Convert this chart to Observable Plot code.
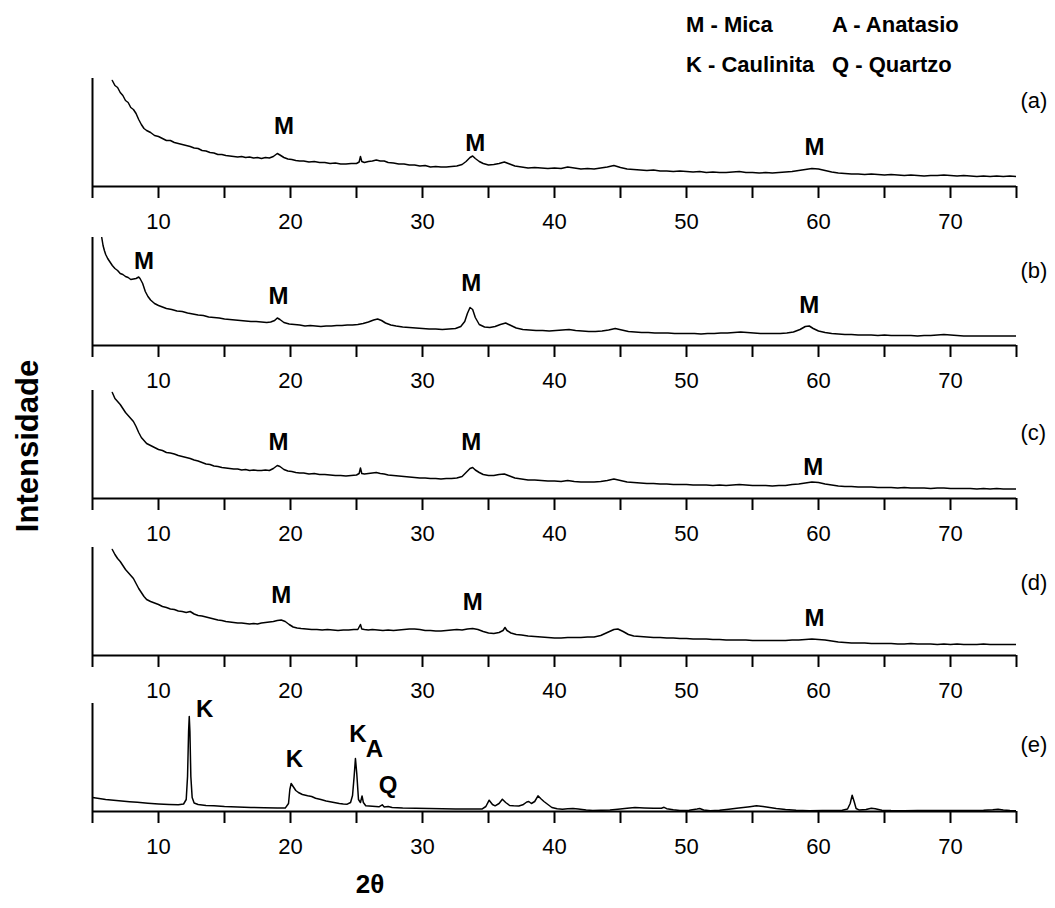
<!DOCTYPE html>
<html>
<head>
<meta charset="utf-8">
<script src="https://cdn.jsdelivr.net/npm/d3@7"></script>
<script src="https://cdn.jsdelivr.net/npm/@observablehq/plot@0.6"></script>
<style>
  body { margin: 0; background: #fff; }
  #wrap { position: relative; width: 1055px; height: 908px; font-family: "Liberation Sans", Arial, sans-serif; color: #000; }
  .panel { position: absolute; left: 0; }
  .legend { position: absolute; font-weight: bold; font-size: 22px; white-space: nowrap; line-height: 1; }
  .ytitle { position: absolute; font-weight: bold; font-size: 31px; white-space: nowrap; transform: translate(-50%, -50%) rotate(-90deg); line-height: 1; }
  .xtitle { position: absolute; font-weight: bold; font-size: 26px; white-space: nowrap; transform: translate(-50%, -50%); line-height: 1; }
</style>
</head>
<body>
<div id="wrap"></div>
<script>
// XRD patterns: [2θ (degrees), intensity (a.u.)]
const patternA = [[6.5,106],[6.7,101],[6.9,99],[7.1,94],[7.3,91],[7.5,86],[7.7,84],[7.9,79],[8.1,77],[8.3,73],[8.5,67],[8.7,62],[8.9,58],[9.1,56],[9.4,54],[9.7,51],[10.0,50],[10.3,48],[10.6,46],[10.9,46],[11.2,44],[11.5,43],[11.8,42],[12.1,41],[12.4,40],[12.7,38.5],[13.0,38],[13.3,36],[13.6,35.5],[13.9,34],[14.2,33.5],[14.5,32],[14.8,32],[15.1,31],[15.4,30.5],[15.7,30],[16.0,29.5],[16.3,30],[16.6,29],[16.9,29.5],[17.2,28.5],[17.5,29],[17.8,28],[18.1,29],[18.4,28.5],[18.7,30],[19.0,33],[19.2,31.5],[19.5,29],[19.8,27.5],[20.1,27],[20.4,26],[20.7,25.5],[21.0,25.5],[21.4,24.5],[21.8,25],[22.2,24],[22.6,24],[23.0,23],[23.4,23.5],[23.8,22.5],[24.2,22.5],[24.6,23],[25.0,23],[25.2,24.5],[25.3,30],[25.4,25],[25.6,24],[25.9,25],[26.2,25.5],[26.5,26.5],[26.8,25.5],[27.1,25.5],[27.4,24],[27.8,23.5],[28.2,22.5],[28.6,22.5],[29.0,21.5],[29.4,21.5],[29.8,20.5],[30.2,21],[30.6,19.5],[31.0,20],[31.4,19.5],[31.8,19.5],[32.2,20],[32.6,20.5],[33.0,22],[33.3,25],[33.6,29],[33.8,30.5],[34.0,28],[34.3,25],[34.6,23],[35.0,21.5],[35.4,22],[35.8,23],[36.2,24.5],[36.6,22.5],[37.0,20.5],[37.5,19.5],[38.0,18.5],[38.5,19],[39.0,18.5],[39.5,18],[40.0,18.5],[40.5,18],[41.0,19.5],[41.5,18.5],[42.0,17.5],[42.5,18],[43.0,17.5],[43.5,18.5],[44.0,19.5],[44.5,21],[45.0,19],[45.5,17.5],[46.0,17],[46.5,16.5],[47.0,16],[47.5,16.5],[48.0,15.5],[48.5,15.5],[49.0,15],[49.5,15.5],[50.0,15],[50.5,14.5],[51.0,15],[51.5,14],[52.0,14.5],[52.5,14],[53.0,14],[53.5,14.5],[54.0,15],[54.5,14],[55.0,14],[55.5,13.5],[56.0,14],[56.5,13.5],[57.0,14],[57.5,14.5],[58.0,15],[58.5,16],[59.0,17],[59.5,18],[60.0,17.5],[60.5,16],[61.0,14.5],[61.5,13.5],[62.0,13],[62.5,12.5],[63.0,12.5],[63.5,12],[64.0,12.5],[64.5,12],[65.0,11.5],[65.5,12],[66.0,11.5],[66.5,11],[67.0,11.5],[67.5,11],[68.0,10.5],[68.5,11],[69.0,11],[69.5,11.5],[70.0,11],[70.5,10.5],[71.0,11],[71.5,10.5],[72.0,10],[72.5,10.5],[73.0,10],[73.5,10.5],[74.0,10],[74.5,10.5],[75.0,10]];

const patternB = [[5.7,108],[5.8,100],[5.9,95],[6.0,91],[6.15,87],[6.3,84],[6.5,80],[6.7,77],[6.9,75],[7.1,72],[7.3,71],[7.5,69],[7.7,68],[7.9,66],[8.1,66.5],[8.3,67],[8.5,68.5],[8.6,67],[8.8,62],[9.0,54],[9.2,49],[9.4,45.5],[9.7,42],[10.0,40],[10.3,38.5],[10.6,37],[11.0,36],[11.4,34.5],[11.8,34],[12.2,32.5],[12.6,31.5],[13.0,30.5],[13.4,30],[13.8,28.5],[14.2,28],[14.6,27.5],[15.0,26.5],[15.4,26],[15.8,25.5],[16.2,25],[16.6,24.5],[17.0,24],[17.4,24],[17.8,23.5],[18.2,23],[18.5,23.5],[18.8,25],[19.0,27.5],[19.2,26],[19.5,23],[19.9,21.5],[20.3,21],[20.7,20.5],[21.1,19.5],[21.5,20],[21.9,19.5],[22.3,19],[22.7,19.5],[23.1,19.5],[23.5,20],[23.9,20],[24.3,20.5],[24.7,20.5],[25.1,21],[25.5,22],[25.9,23.5],[26.3,25.5],[26.6,26.5],[26.9,25],[27.2,22.5],[27.6,20.5],[28.0,19.5],[28.5,18.5],[29.0,18],[29.5,17.5],[30.0,17],[30.5,16.5],[31.0,16.5],[31.5,16],[32.0,16.5],[32.5,17],[32.9,19],[33.2,24],[33.4,32],[33.6,38],[33.8,36],[34.0,28],[34.3,21],[34.7,18.5],[35.1,18],[35.5,19],[35.9,21],[36.3,22.5],[36.7,20],[37.1,17.5],[37.6,16],[38.1,15.5],[38.6,15],[39.1,15],[39.6,14.5],[40.1,15],[40.6,15.5],[41.1,16],[41.6,15],[42.1,14.5],[42.6,14],[43.1,14],[43.6,14.5],[44.1,15.5],[44.6,17],[45.1,15.5],[45.6,14],[46.1,13.5],[46.6,13],[47.1,13],[47.6,12.5],[48.1,12.5],[48.6,12.5],[49.1,12],[49.6,12],[50.1,12],[50.6,12],[51.1,11.5],[51.6,12],[52.1,12],[52.6,12.5],[53.1,12.5],[53.6,13],[54.1,13.5],[54.6,13],[55.1,12.5],[55.6,12],[56.1,12],[56.6,12],[57.1,12],[57.6,12.5],[58.1,13.5],[58.6,16],[59.0,19],[59.3,19.5],[59.6,17],[60.0,14.5],[60.5,13],[61.0,12],[61.5,11.5],[62.0,11],[62.5,11],[63.0,10.5],[63.5,10.5],[64.0,10.5],[64.5,10],[65.0,10.5],[65.5,10],[66.0,10],[66.5,10],[67.0,10],[67.5,9.5],[68.0,10],[68.5,10],[69.0,10.5],[69.5,11],[70.0,10.5],[70.5,10],[71.0,9.5],[71.5,9.5],[72.0,9.5],[72.5,9.5],[73.0,9.5],[73.5,9.5],[74.0,9.5],[74.5,9.5],[75.0,9.5]];

const patternC = [[6.5,106],[6.7,100],[6.9,97],[7.1,94],[7.3,90],[7.5,86],[7.7,83],[7.9,80],[8.1,77],[8.3,72],[8.5,66],[8.7,61],[8.9,58],[9.1,55],[9.4,53],[9.7,51],[10.0,49],[10.3,48],[10.6,46],[10.9,45.5],[11.2,44.5],[11.5,43],[11.8,42],[12.1,41],[12.4,40],[12.7,38.5],[13.0,37.5],[13.3,36],[13.6,34.5],[13.9,34],[14.2,32.5],[14.5,32],[14.8,31],[15.1,30.5],[15.4,30],[15.7,29.5],[16.0,29.5],[16.3,28.5],[16.6,29],[16.9,28],[17.2,28.5],[17.5,28],[17.8,28],[18.1,28.5],[18.4,28],[18.7,30],[19.0,33],[19.2,32],[19.5,29],[19.8,27.5],[20.1,27],[20.4,26],[20.7,25.5],[21.0,25.5],[21.4,24.5],[21.8,25],[22.2,24],[22.6,24],[23.0,23.5],[23.4,23],[23.8,23],[24.2,22.5],[24.6,23],[25.0,23.5],[25.2,25],[25.3,30.5],[25.4,25],[25.6,24.5],[25.9,25],[26.2,25.5],[26.5,26],[26.8,25],[27.1,24.5],[27.4,23.5],[27.8,23],[28.2,22.5],[28.6,22],[29.0,21.5],[29.4,21],[29.8,20.5],[30.2,20.5],[30.6,20],[31.0,20],[31.4,19.5],[31.8,20],[32.2,20],[32.6,20.5],[33.0,22],[33.3,26],[33.6,30],[33.8,31],[34.0,28.5],[34.3,26],[34.6,24],[35.0,23],[35.4,23],[35.8,24],[36.2,24.5],[36.6,22.5],[37.0,20.5],[37.5,19.5],[38.0,18.5],[38.5,18.5],[39.0,18],[39.5,17.5],[40.0,17.5],[40.5,17],[41.0,18],[41.5,17],[42.0,16.5],[42.5,16.5],[43.0,16.5],[43.5,17],[44.0,18],[44.5,19.5],[45.0,18],[45.5,16.5],[46.0,16],[46.5,15.5],[47.0,15],[47.5,15],[48.0,14.5],[48.5,14.5],[49.0,14],[49.5,14],[50.0,14],[50.5,13.5],[51.0,13.5],[51.5,13.5],[52.0,13],[52.5,13.5],[53.0,13],[53.5,13.5],[54.0,14],[54.5,13.5],[55.0,13],[55.5,13],[56.0,13],[56.5,12.5],[57.0,13],[57.5,13],[58.0,14],[58.5,14.5],[59.0,15.5],[59.5,16.5],[60.0,16],[60.5,14.5],[61.0,13.5],[61.5,12.5],[62.0,12],[62.5,12],[63.0,11.5],[63.5,11.5],[64.0,11.5],[64.5,11],[65.0,11],[65.5,11],[66.0,10.5],[66.5,11],[67.0,10.5],[67.5,10.5],[68.0,10.5],[68.5,10],[69.0,10.5],[69.5,10.5],[70.0,10],[70.5,10],[71.0,10],[71.5,10],[72.0,9.5],[72.5,10],[73.0,9.5],[73.5,10],[74.0,9.5],[74.5,9.5],[75.0,9.5]];

const patternD = [[6.5,106],[6.7,101],[6.9,97],[7.1,94],[7.3,90],[7.5,86],[7.7,83],[7.9,80],[8.1,77],[8.3,72],[8.5,67],[8.7,63],[8.9,59],[9.1,56],[9.4,54],[9.7,52.5],[10.0,51],[10.3,49],[10.6,48],[10.9,46.5],[11.2,46],[11.5,44.5],[11.8,44],[12.1,43],[12.4,44],[12.7,41.5],[13.0,40],[13.3,39.5],[13.6,38.5],[13.9,37.5],[14.2,36.5],[14.5,35.5],[14.8,35],[15.1,34],[15.4,33.5],[15.7,33],[16.0,32.5],[16.3,32.5],[16.6,32],[16.9,31.5],[17.2,32],[17.5,31.5],[17.8,32.5],[18.1,33],[18.4,33.5],[18.7,34],[19.0,35],[19.3,35.5],[19.6,34],[19.9,31],[20.2,28.5],[20.5,27.5],[20.8,27],[21.2,26.5],[21.6,26],[22.0,26],[22.4,25.5],[22.8,26],[23.2,25.5],[23.6,25],[24.0,25.5],[24.4,25.5],[24.8,26],[25.1,26],[25.3,31],[25.4,26.5],[25.6,26],[25.9,25.5],[26.2,26],[26.6,25.5],[27.0,25],[27.4,25.5],[27.8,25],[28.2,25.5],[28.6,26],[29.0,26.5],[29.4,26.5],[29.8,26],[30.2,25],[30.6,25],[31.0,24.5],[31.4,24.5],[31.8,25],[32.2,25.5],[32.6,26],[33.0,25.5],[33.4,26.5],[33.8,27],[34.2,26],[34.6,24],[35.0,22.5],[35.4,22],[35.8,23],[36.1,25],[36.25,28],[36.4,25],[36.7,22.5],[37.1,21],[37.5,20.5],[38.0,19.5],[38.5,19],[39.0,18.5],[39.5,18],[40.0,17.5],[40.5,17.5],[41.0,18],[41.5,18],[42.0,18],[42.5,18.5],[43.0,18.5],[43.5,20],[44.0,23],[44.5,26],[44.8,26.5],[45.2,24],[45.6,21],[46.0,19.5],[46.5,19],[47.0,18.5],[47.5,18],[48.0,18],[48.5,17.5],[49.0,17.5],[49.5,17],[50.0,17],[50.5,16.5],[51.0,16.5],[51.5,16.5],[52.0,16],[52.5,16],[53.0,15.5],[53.5,15.5],[54.0,15.5],[54.5,15.5],[55.0,15],[55.5,15],[56.0,15],[56.5,15],[57.0,15],[57.5,15],[58.0,15.5],[58.5,15.5],[59.0,16],[59.5,16.5],[60.0,16],[60.5,15.5],[61.0,14.5],[61.5,13.5],[62.0,13],[62.5,12.5],[63.0,12.5],[63.5,12.5],[64.0,12],[64.5,12],[65.0,12],[65.5,12],[66.0,11.5],[66.5,11.5],[67.0,12],[67.5,11.5],[68.0,11.5],[68.5,11.5],[69.0,11],[69.5,11.5],[70.0,11],[70.5,11.5],[71.0,11],[71.5,11],[72.0,11],[72.5,11.5],[73.0,11],[73.5,11],[74.0,11],[74.5,11],[75.0,11]];

const patternE = [[5.0,14],[5.5,13],[6.0,12],[6.6,11.3],[7.2,10.5],[7.8,9.8],[8.4,9.2],[9.2,8.3],[10.0,7.6],[10.8,7.1],[11.5,6.7],[11.9,7.5],[12.1,12],[12.2,35],[12.28,80],[12.33,95],[12.38,80],[12.45,35],[12.55,14],[12.7,8.5],[13.0,7],[13.6,6],[14.2,5.7],[15.0,5],[16.0,4.5],[17.0,4],[18.0,3.7],[19.0,3.4],[19.6,3.4],[19.85,8],[19.95,22],[20.05,28],[20.2,25],[20.4,21],[20.6,19],[20.9,17],[21.3,15.7],[21.6,15],[21.9,13.3],[22.3,12],[22.7,10.5],[23.0,9.8],[23.3,9],[23.7,8],[24.0,7.5],[24.3,7.3],[24.55,9],[24.7,16],[24.82,35],[24.92,53],[25.02,38],[25.15,12],[25.3,9],[25.42,15.5],[25.52,9],[25.7,5.7],[26.2,5.2],[26.7,4.7],[26.95,6.7],[27.1,4.5],[27.4,5],[27.7,4],[28.5,3.5],[29.5,3.2],[30.5,3],[31.5,2.8],[32.5,2.6],[33.5,2.5],[34.5,2.4],[34.8,5],[35.05,11.3],[35.3,7],[35.5,5.7],[35.8,8],[36.05,12.3],[36.3,9],[36.6,6],[36.9,5.7],[37.3,5.5],[37.6,6.7],[37.9,9.5],[38.05,10],[38.25,8],[38.5,10],[38.75,15.7],[38.95,13],[39.2,10],[39.5,7],[39.8,4],[40.2,2.8],[40.6,2.3],[41.0,2.8],[41.4,3],[41.8,2.4],[42.4,1.5],[42.9,1],[43.5,1.2],[44.2,1.5],[44.8,2.3],[45.5,3.2],[46.1,4],[46.8,3.6],[47.5,3.2],[48.1,3.3],[48.3,4.2],[48.5,2.8],[49.0,1.8],[49.5,1],[50.2,1.2],[50.8,2.5],[51.0,3],[51.3,1.5],[51.8,0.8],[52.5,1.2],[53.2,2.2],[53.8,3.2],[54.3,4],[54.8,4.8],[55.3,5.7],[55.8,5],[56.3,4],[56.8,3],[57.5,2],[58.3,1.3],[59.3,0.8],[60.3,0.9],[61.2,1],[61.8,1.2],[62.2,2.5],[62.4,8],[62.55,16.3],[62.7,10],[62.85,3],[63.1,1.4],[63.6,2],[64.0,3.3],[64.3,2.8],[64.8,1.2],[65.5,0.9],[66.5,0.8],[67.5,1],[68.5,1.1],[69.5,0.9],[70.5,1],[71.5,0.9],[72.5,1.2],[73.2,1.8],[73.6,2.3],[74.0,1.5],[74.5,1],[75.0,0.7]];

// Phase annotations: [2θ, intensity, phase letter]
const peaksA = [[19.5, 60, "M"], [34.0, 43, "M"], [59.7, 39, "M"]];
const peaksB = [[8.9, 84, "M"], [19.1, 49, "M"], [33.7, 62, "M"], [59.3, 40, "M"]];
const peaksC = [[19.1, 56, "M"], [33.7, 56, "M"], [59.6, 31, "M"]];
const peaksD = [[19.3, 60, "M"], [33.8, 53, "M"], [59.7, 37, "M"]];
const peaksE = [[13.5, 102, "K"], [20.3, 52, "K"], [25.1, 77, "K"], [26.35, 62, "A"], [27.4, 26, "Q"]];

// Sample tags and the intensity level at which each is written
const sampleTags = ["(a)", "(b)", "(c)", "(d)", "(e)"];
const sampleTagLevels = [86, 75, 66, 73, 67];

const xTicks = [5, 10, 15, 20, 25, 30, 35, 40, 45, 50, 55, 60, 65, 70, 75];
const legendRows = [["M - Mica", "A - Anatasio"], ["K - Caulinita", "Q - Quartzo"]];

const patterns = [patternA, patternB, patternC, patternD, patternE];
const peakSets = [peaksA, peaksB, peaksC, peaksD, peaksE];
const axisBaselines = [186, 345, 498, 655, 811];

const FONT = '"Liberation Sans", Arial, sans-serif';
const MT = 2, MB = 50, PH = 108;
const wrap = document.getElementById("wrap");

function drawPanel(i) {
  const chart = Plot.plot({
    width: 1055,
    height: MT + PH + MB,
    marginLeft: 92,
    marginRight: 39,
    marginTop: MT,
    marginBottom: MB,
    x: {domain: [5, 75], label: null},
    y: {domain: [0, 108], axis: null},
    style: {fontFamily: FONT, fontSize: "22px", color: "#000", background: "transparent", overflow: "visible"},
    marks: [
      Plot.axisX({ticks: xTicks, tickSize: 12, tickPadding: 15, strokeWidth: 2,
                  tickFormat: d => d % 10 === 0 ? String(d) : "", fontSize: 22}),
      Plot.ruleY([0], {stroke: "#000", strokeWidth: 2}),
      Plot.ruleX([5], {stroke: "#000", strokeWidth: 2}),
      Plot.line(patterns[i], {x: d => d[0], y: d => d[1], stroke: "#000", strokeWidth: 1.5, clip: true}),
      Plot.text(peakSets[i], {x: d => d[0], y: d => d[1], text: d => d[2],
                              fontWeight: "bold", fontSize: 24, fill: "#000"}),
      Plot.text([sampleTags[i]], {x: 75, y: sampleTagLevels[i], text: d => d, dx: 4,
                                  textAnchor: "start", fontSize: 22, fill: "#000"})
    ]
  });
  chart.classList.add("panel");
  chart.style.top = (axisBaselines[i] - PH - MT) + "px";
  wrap.appendChild(chart);
}

for (let i = 0; i < patterns.length; i++) drawPanel(i);

// Phase legend, top right
const legendX = [686, 832];
const legendY = [14, 54];
legendRows.forEach((row, r) => row.forEach((txt, c) => {
  const el = document.createElement("div");
  el.className = "legend";
  el.textContent = txt;
  el.style.left = legendX[c] + "px";
  el.style.top = legendY[r] + "px";
  wrap.appendChild(el);
}));

// Axis titles
const yTitle = document.createElement("div");
yTitle.className = "ytitle";
yTitle.textContent = "Intensidade";
yTitle.style.left = "27px";
yTitle.style.top = "446px";
wrap.appendChild(yTitle);

const xTitle = document.createElement("div");
xTitle.className = "xtitle";
xTitle.textContent = "2θ";
xTitle.style.left = "370px";
xTitle.style.top = "884px";
wrap.appendChild(xTitle);
</script>
</body>
</html>
